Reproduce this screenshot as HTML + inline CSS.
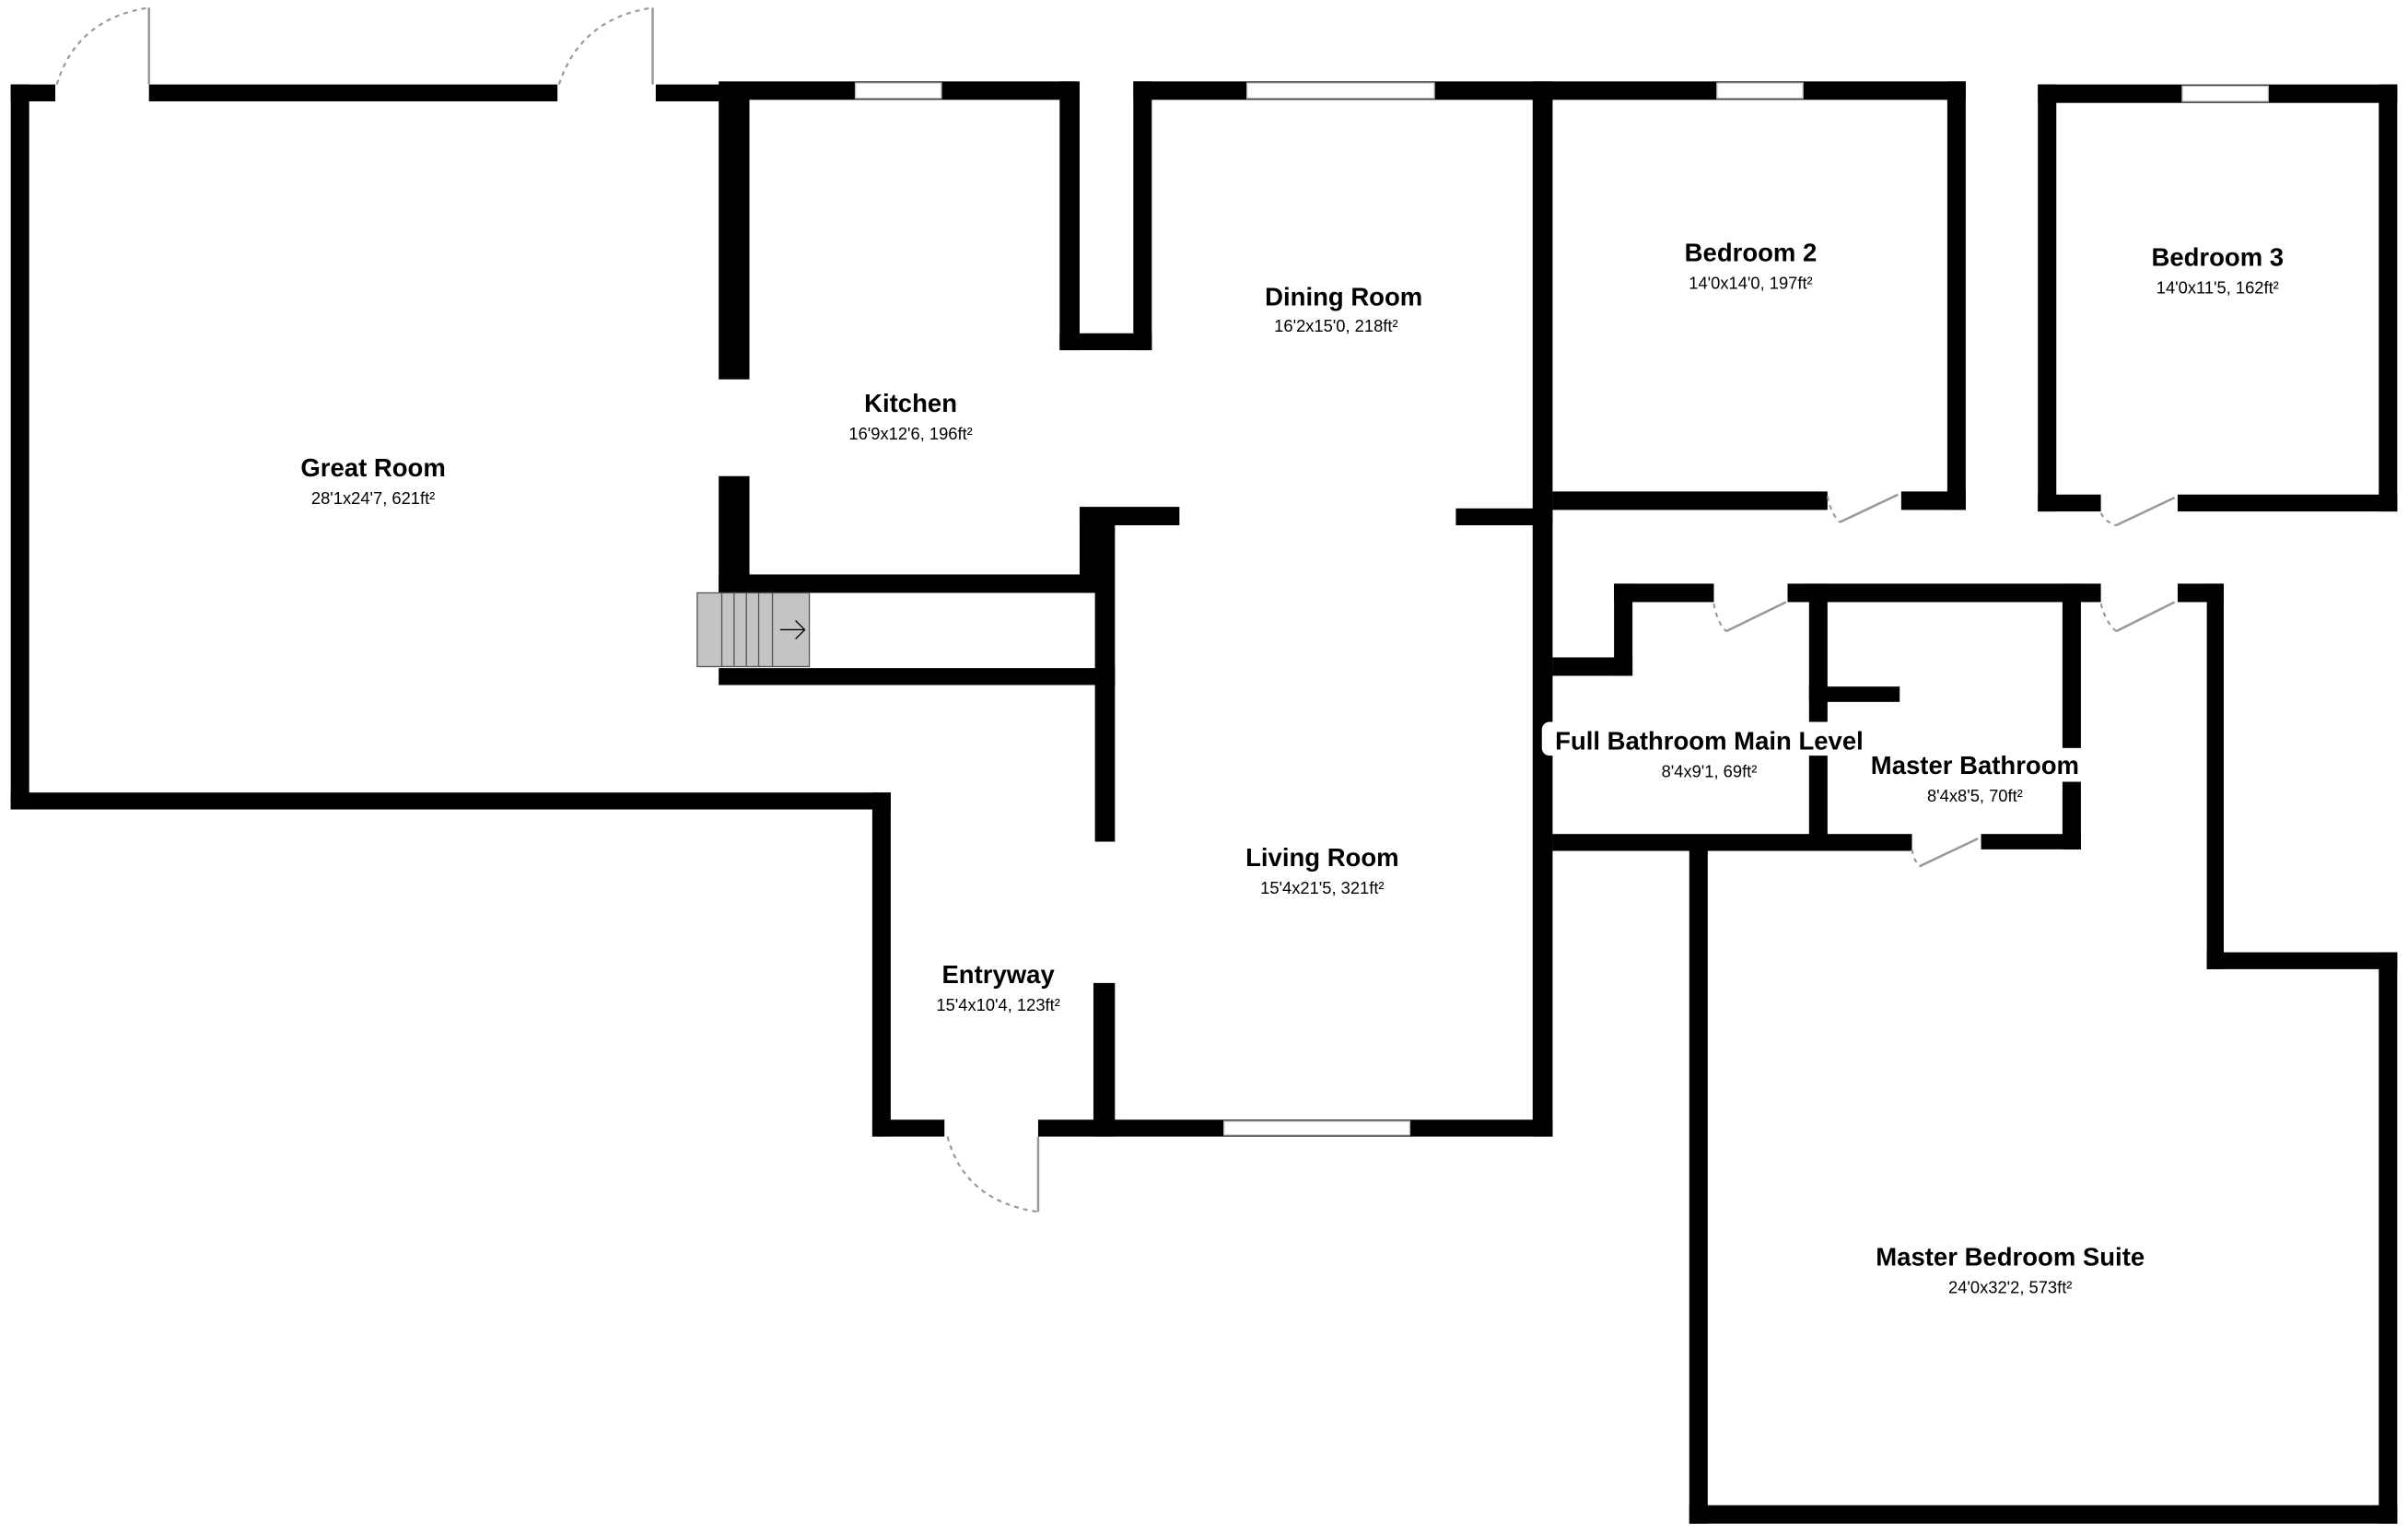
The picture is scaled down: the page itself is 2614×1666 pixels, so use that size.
<!DOCTYPE html>
<html><head><meta charset="utf-8"><style>
html,body{margin:0;padding:0;background:#fff;}
svg{display:block}
text{font-family:"Liberation Sans",Arial,sans-serif;text-anchor:middle;fill:#000}
.t{font-weight:bold;font-size:16.5px}
.d{font-size:11px}
</style></head><body>
<svg width="2614" height="1666" viewBox="0 0 1568 999.4" preserveAspectRatio="none" xmlns="http://www.w3.org/2000/svg">
<rect width="1568" height="1000" fill="#fff"/>
<g fill="#000">
<!-- Great room -->
<rect x="7" y="55" width="29" height="11"/>
<rect x="97" y="55" width="266" height="11"/>
<rect x="427" y="55" width="53" height="11"/>
<rect x="7" y="55" width="12" height="472"/>
<rect x="7" y="516" width="573" height="11"/>
<rect x="568" y="516" width="12" height="224"/>
<rect x="568" y="729" width="47" height="11"/>
<rect x="676" y="729" width="335" height="11"/>
<!-- Kitchen -->
<rect x="468" y="55" width="20" height="192"/>
<rect x="468" y="310" width="20" height="76"/>
<rect x="468" y="53" width="232" height="12"/>
<rect x="690" y="53" width="13" height="175"/>
<rect x="690" y="217" width="60" height="11"/>
<rect x="738" y="53" width="12" height="175"/>
<rect x="738" y="53" width="273" height="12"/>
<rect x="998" y="53" width="13" height="687"/>
<rect x="948" y="331" width="63" height="11"/>
<rect x="468" y="374" width="244" height="12"/>
<rect x="703" y="331" width="13" height="55"/>
<rect x="703" y="330" width="65" height="12"/>
<rect x="713" y="341" width="13" height="207"/>
<rect x="468" y="435" width="258" height="11"/>
<rect x="712" y="640" width="14" height="100"/>
<!-- Bedroom 2 -->
<rect x="1011" y="53" width="269" height="12"/>
<rect x="1268" y="53" width="12" height="279"/>
<rect x="1011" y="320" width="179" height="12"/>
<rect x="1238" y="320" width="42" height="12"/>
<!-- Bedroom 3 -->
<rect x="1327" y="55" width="234" height="12"/>
<rect x="1327" y="55" width="12" height="278"/>
<rect x="1549" y="55" width="12" height="278"/>
<rect x="1327" y="322" width="41" height="11"/>
<rect x="1418" y="322" width="143" height="11"/>
<!-- Baths -->
<rect x="1011" y="428" width="52" height="12"/>
<rect x="1051" y="380" width="12" height="60"/>
<rect x="1051" y="380" width="65" height="12"/>
<rect x="1164" y="380" width="204" height="12"/>
<rect x="1418" y="380" width="30" height="12"/>
<rect x="1437" y="380" width="11" height="251"/>
<rect x="1437" y="620" width="124" height="11"/>
<rect x="1549" y="620" width="12" height="372"/>
<rect x="1100" y="980" width="461" height="12"/>
<rect x="1100" y="548" width="12" height="444"/>
<rect x="1178" y="380" width="12" height="168"/>
<rect x="1178" y="447" width="59" height="10"/>
<rect x="1343" y="380" width="12" height="173"/>
<rect x="1011" y="543" width="234" height="11"/>
<rect x="1290" y="543" width="65" height="10"/>
</g>
<!-- windows -->
<g fill="#fff" stroke="#bbb" stroke-width="0.8">
<rect x="557" y="54" width="56" height="10"/>
<rect x="812" y="54" width="122" height="10"/>
<rect x="1118" y="54" width="56" height="10"/>
<rect x="1421" y="56" width="56" height="10"/>
<rect x="797" y="730" width="121" height="9"/>
</g>
<!-- stairs -->
<g stroke="#555" stroke-width="0.8">
<rect x="454" y="386" width="73" height="48" fill="#c4c4c4"/>
<line x1="470" y1="386" x2="470" y2="434"/><line x1="478" y1="386" x2="478" y2="434"/>
<line x1="486" y1="386" x2="486" y2="434"/><line x1="494" y1="386" x2="494" y2="434"/>
<line x1="503" y1="386" x2="503" y2="434"/>
<path d="M508 410 H524 M518 404 L524 410 L518 416" fill="none" stroke="#000"/>
</g>
<!-- doors -->
<g fill="none" stroke="#999" stroke-width="1.5">
<line x1="97" y1="5" x2="97" y2="55"/>
<line x1="425" y1="5" x2="425" y2="55"/>
<line x1="676" y1="740" x2="676" y2="789"/>
<line x1="1198" y1="340" x2="1236" y2="322"/>
<line x1="1378" y1="342" x2="1416" y2="324"/>
<line x1="1124" y1="411" x2="1163" y2="392"/>
<line x1="1378" y1="411" x2="1416" y2="392"/>
<line x1="1250" y1="564" x2="1288" y2="546"/>
</g>
<g fill="none" stroke="#999" stroke-width="1.3" stroke-dasharray="3,3">
<path d="M37 55 Q50 12 97 5"/>
<path d="M364 55 Q378 12 425 5"/>
<path d="M617 740 Q628 782 676 789"/>
<path d="M1190 323 Q1192 334 1198 340"/>
<path d="M1368 334 Q1371 340 1378 342"/>
<path d="M1116 393 Q1118 405 1124 411"/>
<path d="M1368 393 Q1371 405 1378 411"/>
<path d="M1245 553 Q1246 560 1250 564"/>
</g>
<!-- labels -->
<rect x="1004" y="470" width="218" height="22" rx="5" fill="#fff"/>
<rect x="1212" y="487" width="148" height="22" fill="#fff"/>
<text class="t" x="243" y="310">Great Room</text><text class="d" x="243" y="328">28'1x24'7, 621ft²</text>
<text class="t" x="593" y="268">Kitchen</text><text class="d" x="593" y="286">16'9x12'6, 196ft²</text>
<text class="t" x="875" y="199">Dining Room</text><text class="d" x="870" y="216">16'2x15'0, 218ft²</text>
<text class="t" x="1140" y="170">Bedroom 2</text><text class="d" x="1140" y="188">14'0x14'0, 197ft²</text>
<text class="t" x="1444" y="173">Bedroom 3</text><text class="d" x="1444" y="191">14'0x11'5, 162ft²</text>
<text class="t" x="1113" y="488">Full Bathroom Main Level</text><text class="d" x="1113" y="506">8'4x9'1, 69ft²</text>
<text class="t" x="1286" y="504">Master Bathroom</text><text class="d" x="1286" y="522">8'4x8'5, 70ft²</text>
<text class="t" x="861" y="564">Living Room</text><text class="d" x="861" y="582">15'4x21'5, 321ft²</text>
<text class="t" x="650" y="640">Entryway</text><text class="d" x="650" y="658">15'4x10'4, 123ft²</text>
<text class="t" x="1309" y="824">Master Bedroom Suite</text><text class="d" x="1309" y="842">24'0x32'2, 573ft²</text>
</svg>
</body></html>
